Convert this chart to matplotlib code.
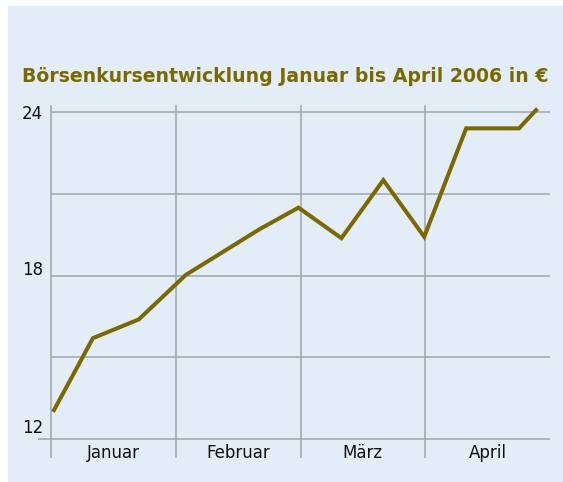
import matplotlib
matplotlib.use("Agg")
import matplotlib.pyplot as plt

# data: x in months since 1 January (each month = 1 unit), y = price in EUR
months = ["Januar", "Februar", "März", "April"]
kurs_x = [0.024, 0.336, 0.704, 1.08, 1.672, 1.984, 2.328, 2.664, 2.992, 3.328, 3.752, 3.888]
kurs_y = [13.06, 15.70, 16.39, 18.02, 19.70, 20.49, 19.37, 21.50, 19.42, 23.40, 23.40, 24.07]
grid_y = [12, 15, 18, 21, 24]
ytick_vals = [12, 18, 24]
ytick_labels = ["12", "18", "24"]

olive = "#7b6900"
grid_col = "#a2a5ab"
panel = "#e3edf8"

fig = plt.figure(figsize=(5.63, 4.82), dpi=100)
fig.patch.set_facecolor("white")
bg = fig.add_axes([8 / 563, 0, 1 - 8 / 563, 1 - 6 / 482], zorder=-5)
bg.set_facecolor(panel)
bg.set_xticks([])
bg.set_yticks([])
for s in bg.spines.values():
    s.set_visible(False)

ax = fig.add_axes([51 / 563, 24 / 482, 499 / 563, 353 / 482])
ax.set_facecolor("none")
ax.set_xlim(0, 4)
ax.set_ylim(11.303, 24.257)
ax.axis("off")

# grid
for g in grid_y:
    x0 = -0.104 if g == 12 else 0
    ax.hlines(g, x0, 4, colors=grid_col, lw=1.1, clip_on=False, zorder=1)
for i in range(4):
    ax.vlines(i, 11.303, 24.257, colors=grid_col, lw=1.1, clip_on=False, zorder=1)

ax.plot(kurs_x, kurs_y, color=olive, lw=2.9, solid_joinstyle="miter", zorder=3)

# labels
offs = {12: 0.40, 18: 0.21, 24: -0.09}
for v, lab in zip(ytick_vals, ytick_labels):
    ax.text(-0.064, v + offs[v], lab, ha="right", va="center", fontsize=12,
            color="#111111", clip_on=False)
for i, m in enumerate(months):
    ax.text(i + 0.5, 11.49, m, ha="center", va="center", fontsize=12, color="#111111")

fig.text(22 / 563, 1 - 77 / 482, "Börsenkursentwicklung Januar bis April 2006 in €",
         ha="left", va="center", fontsize=13.6, fontweight="bold", color=olive,
         family=["DejaVu Sans"])

fig.savefig("out.png", dpi=100)
